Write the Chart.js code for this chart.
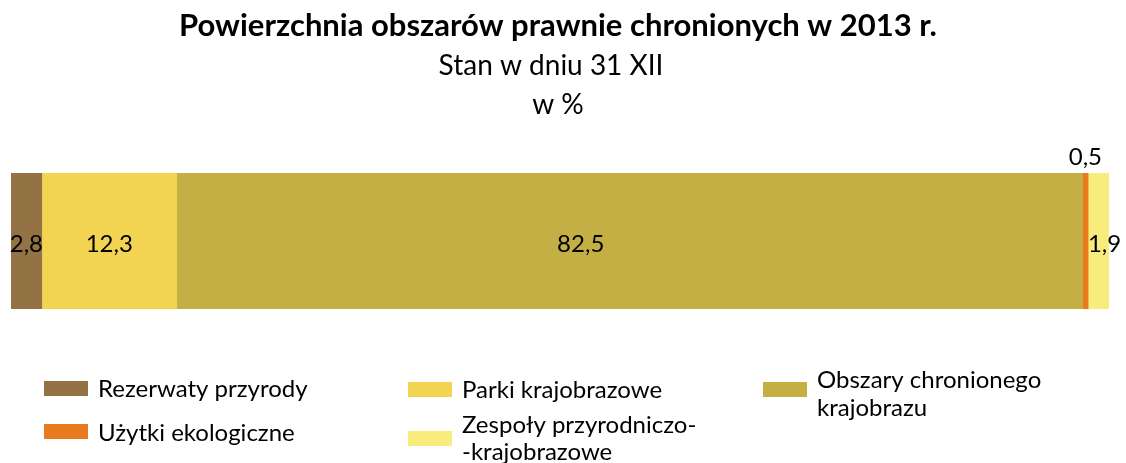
<!DOCTYPE html>
<html>
<head>
<meta charset="utf-8">
<script src="https://cdn.jsdelivr.net/npm/chart.js@4"></script>
<style>
  body { margin: 0; background: #fff; }
  #wrap { width: 1126px; height: 463px; }
</style>
</head>
<body>
<div id="wrap"><canvas id="chart"></canvas></div>
<script>
const categories = ['2013'];
const seriesNames = ['Rezerwaty przyrody', 'Parki krajobrazowe', 'Obszary chronionego krajobrazu', 'Użytki ekologiczne', 'Zespoły przyrodniczo-krajobrazowe'];
const seriesValues = [2.8, 12.3, 82.5, 0.5, 1.9];
const seriesColors = ['#937244', '#F2D352', '#C4AF45', '#E97B1F', '#F8EC7C'];

const FONT = 'Lato, "Open Sans", sans-serif';

// label nudges (px) from the segment centre, x / y
const labelShift = [[0, 3], [0, 3], [-49, 3], [0, -84], [6, 3]];

// legend: label lines + where to draw them
const legendItems = [
    { ds: 0, x: 44, y: 381, lines: ['Rezerwaty przyrody'], ty: [389] },
    { ds: 3, x: 44, y: 424, lines: ['Użytki ekologiczne'], ty: [433] },
    { ds: 1, x: 408, y: 382, lines: ['Parki krajobrazowe'], ty: [390] },
    { ds: 4, x: 408, y: 431, lines: ['Zespoły przyrodniczo-', '-krajobrazowe'], ty: [425, 452] },
    { ds: 2, x: 763, y: 382, lines: ['Obszary chronionego', 'krajobrazu'], ty: [380, 408] }
];

const datasets = seriesNames.map((name, i) => ({
    label: name,
    data: [seriesValues[i]],
    backgroundColor: seriesColors[i],
    borderWidth: 0,
    barPercentage: 1,
    categoryPercentage: 1
}));

const extras = {
    id: 'extras',
    afterDraw(chart) {
        const c = chart.ctx;
        c.save();
        c.fillStyle = '#000';
        c.textAlign = 'center';
        c.textBaseline = 'middle';
        c.font = 'bold 31px ' + FONT;
        c.fillText('Powierzchnia obszarów prawnie chronionych w 2013 r.', 558, 26);
        c.font = '28px ' + FONT;
        c.fillText('Stan w dniu 31 XII', 551, 66);
        c.fillText('w %', 558, 105);

        // value labels
        c.font = '24px ' + FONT;
        chart.data.datasets.forEach((ds, i) => {
            const bar = chart.getDatasetMeta(i).data[0];
            const txt = String(ds.data[0]).replace('.', ',');
            const [dx, dy] = labelShift[i];
            c.fillText(txt, (bar.x + bar.base) / 2 + dx, bar.y + dy);
        });

        // legend
        c.textAlign = 'left';
        c.font = '24px ' + FONT;
        legendItems.forEach(it => {
            c.fillStyle = seriesColors[it.ds];
            c.fillRect(it.x, it.y, 44, 15);
            c.fillStyle = '#000';
            it.lines.forEach((ln, k) => c.fillText(ln, it.x + 54, it.ty[k]));
        });
        c.restore();
    }
};

new Chart(document.getElementById('chart'), {
    type: 'bar',
    data: { labels: categories, datasets: datasets },
    options: {
        indexAxis: 'y',
        responsive: true,
        maintainAspectRatio: false,
        animation: false,
        layout: { padding: { top: 173, bottom: 154, left: 11, right: 17 } },
        scales: {
            x: { stacked: true, min: 0, max: 100, display: false },
            y: { stacked: true, display: false }
        },
        plugins: {
            legend: { display: false },
            tooltip: { enabled: false }
        }
    },
    plugins: [extras]
});
</script>
</body>
</html>
